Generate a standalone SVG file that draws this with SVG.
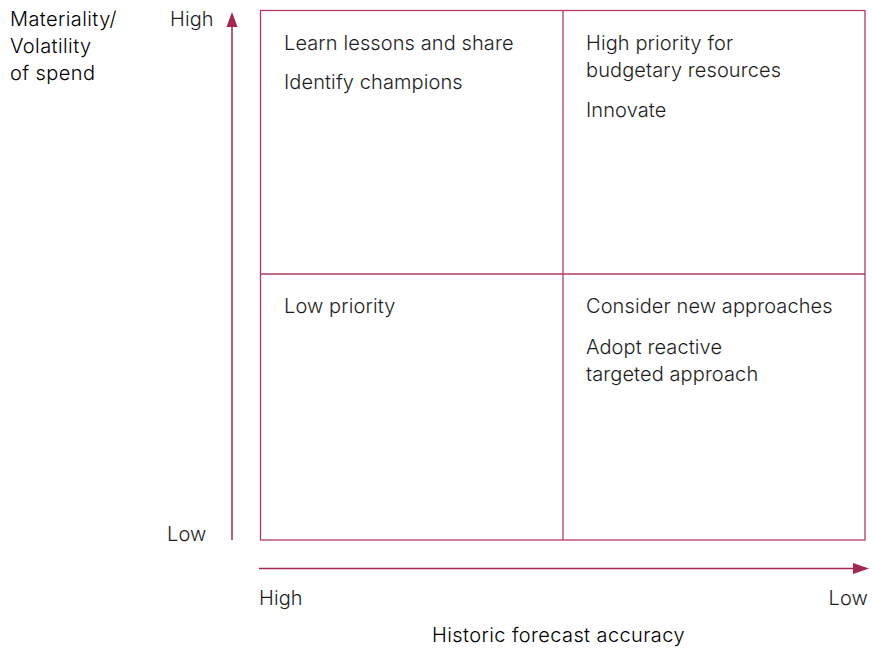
<svg xmlns="http://www.w3.org/2000/svg" width="873" height="650" viewBox="0 0 873 650">
  <style>
    text { font-family: Inter, "Liberation Sans", Arial, sans-serif; font-weight: 300; font-size: 20px; letter-spacing: 0.1px; fill: #1e1e1e; }
    .title { fill: #000000; letter-spacing: 0.4px; }
    .box { fill: none; stroke: #b23a5e; stroke-width: 1.3; }
    .axis { stroke: #a3284f; stroke-width: 1.5; fill: none; }
    .head { fill: #a3284f; }
  </style>
  <rect width="873" height="650" fill="#ffffff"/>

  <!-- axis titles and end labels -->
  <g id="y-axis-title">
    <text class="title" x="10" y="26">Materiality/</text>
    <text class="title" x="10" y="53">Volatility</text>
    <text class="title" x="10" y="80">of spend</text>
  </g>
  <text x="170" y="26">High</text>
  <text x="167" y="541">Low</text>
  <text x="259" y="605">High</text>
  <text x="868" y="605" text-anchor="end">Low</text>
  <text id="x-axis-title" class="title" x="432" y="642">Historic forecast accuracy</text>

  <!-- axes -->
  <g id="connectors">
    <line class="axis" x1="232" y1="540" x2="232" y2="26"/>
    <polygon class="head" points="232,12 226.5,27 237.5,27"/>
    <line class="axis" x1="259" y1="568.5" x2="854" y2="568.5"/>
    <polygon class="head" points="869,568.5 853,563 853,574"/>
  </g>

  <!-- matrix frame -->
  <g id="matrix">
    <rect class="box" x="260.5" y="10.5" width="604.5" height="529.5"/>
    <line class="box" x1="563" y1="10.5" x2="563" y2="540"/>
    <line class="box" x1="260.5" y1="274" x2="865" y2="274"/>
  </g>

  <g id="quadrant-top-left">
    <text x="284" y="50">Learn lessons and share</text>
    <text x="284" y="89">Identify champions</text>
  </g>
  <g id="quadrant-top-right">
    <text x="586" y="50">High priority for</text>
    <text x="586" y="77">budgetary resources</text>
    <text x="586" y="117">Innovate</text>
  </g>
  <g id="quadrant-bottom-left">
    <text x="284" y="313">Low priority</text>
  </g>
  <g id="quadrant-bottom-right">
    <text x="586" y="313">Consider new approaches</text>
    <text x="586" y="354">Adopt reactive</text>
    <text x="586" y="381">targeted approach</text>
  </g>
</svg>
